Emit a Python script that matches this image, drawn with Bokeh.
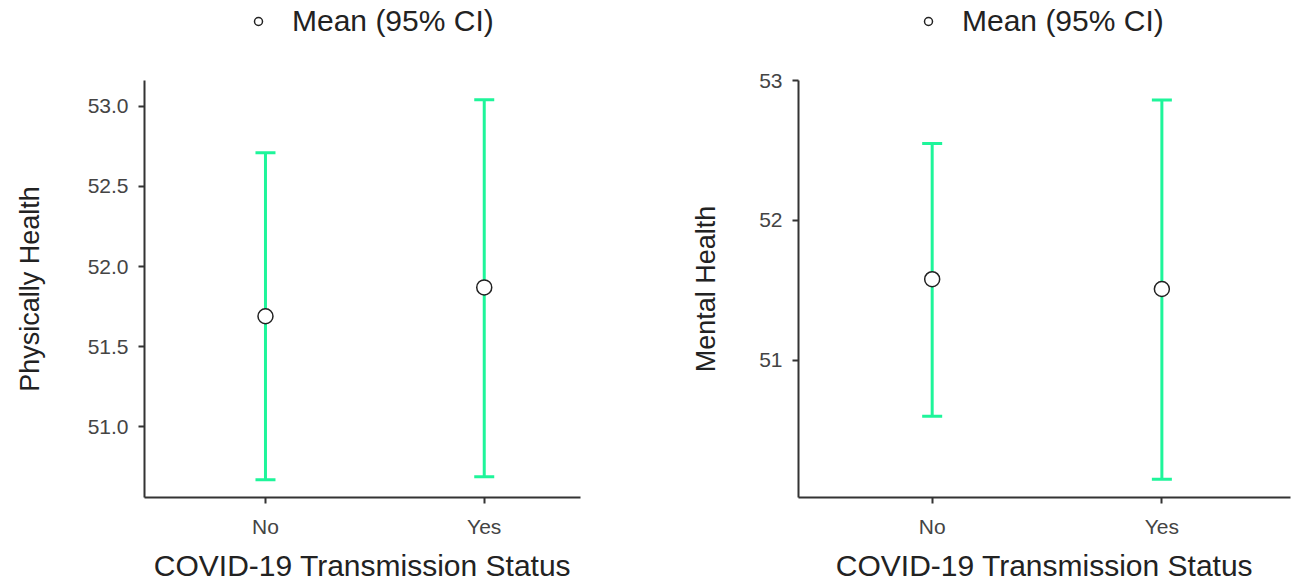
from bokeh.plotting import figure
from bokeh.layouts import row, column
from bokeh.models import Whisker, TeeHead, ColumnDataSource, Legend, LegendItem, FixedTicker, Range1d
from bokeh.embed import file_html
from bokeh.resources import INLINE

categories = ["No", "Yes"]
x_pos = [1, 2]

phys_mean = [51.69, 51.87]
phys_lower = [50.67, 50.69]
phys_upper = [52.71, 53.04]

ment_mean = [51.58, 51.51]
ment_lower = [50.60, 50.15]
ment_upper = [52.55, 52.86]

BAR = "#1EF59A"
FONT = "Liberation Sans"


def make_legend_fig(width, src, legend_x):
    # legend-only strip; its ranges exclude the data so only the legend shows
    lf = figure(width=width, height=60, output_backend="svg", toolbar_location=None,
                x_range=Range1d(0, 1), y_range=Range1d(0, 1),
                min_border=0, min_border_left=0, min_border_right=0,
                min_border_top=0, min_border_bottom=0)
    lf.axis.visible = False
    lf.grid.visible = False
    lf.outline_line_color = None
    r = lf.scatter("x", "mean", source=src, size=11, fill_color="white",
                   line_color="#222222", line_width=1.5)
    legend = Legend(items=[LegendItem(label="Mean (95% CI)", renderers=[r])],
                    location=(legend_x, 22), orientation="horizontal",
                    label_text_font=FONT, label_text_font_size="30px",
                    label_text_color="#222222",
                    background_fill_alpha=0, border_line_color=None,
                    glyph_width=20, glyph_height=20, label_standoff=24,
                    margin=0, padding=0)
    lf.add_layout(legend, "center")
    return lf


def make_panel(src, ylabel, yrange, xrange, yticks, fmt, borders, width, ylab_standoff):
    bl, br = borders
    p = figure(width=width, height=524, output_backend="svg", toolbar_location=None,
               x_range=xrange, y_range=yrange,
               min_border_left=bl, min_border_right=br, min_border_top=20, min_border_bottom=85)
    p.outline_line_color = None
    p.grid.grid_line_color = None
    p.background_fill_color = "white"
    p.border_fill_color = "white"

    w = Whisker(base="x", lower="lower", upper="upper", source=src, dimension="height",
                line_color=BAR, line_width=3,
                upper_head=TeeHead(size=20, line_color=BAR, line_width=3),
                lower_head=TeeHead(size=20, line_color=BAR, line_width=3))
    p.add_layout(w)
    p.scatter("x", "mean", source=src, size=15, fill_color="white",
              line_color="#222222", line_width=1.5)

    p.xaxis.ticker = FixedTicker(ticks=x_pos)
    p.xaxis.major_label_overrides = {x: c for x, c in zip(x_pos, categories)}
    p.yaxis.ticker = FixedTicker(ticks=yticks)
    p.yaxis.major_label_overrides = {t: fmt.format(t) for t in yticks}
    for ax in (p.xaxis, p.yaxis):
        ax.axis_line_color = "#333333"
        ax.axis_line_width = 2
        ax.major_tick_line_color = "#333333"
        ax.major_tick_line_width = 2
        ax.major_tick_out = 6
        ax.major_tick_in = 0
        ax.minor_tick_line_color = None
        ax.major_label_text_font = FONT
        ax.major_label_text_font_size = "21px"
        ax.major_label_text_color = "#444444"
        ax.axis_label_text_font = FONT
        ax.axis_label_text_font_style = "normal"
        ax.axis_label_text_color = "#222222"
    p.xaxis.axis_label = "COVID-19 Transmission Status"
    p.xaxis.axis_label_text_font_size = "30px"
    p.xaxis.major_label_standoff = 11
    p.xaxis.axis_label_standoff = 8
    p.yaxis.axis_label = ylabel
    p.yaxis.axis_label_text_font_size = "27px"
    p.yaxis.major_label_standoff = 10
    p.yaxis.axis_label_standoff = ylab_standoff
    return p


src1 = ColumnDataSource(dict(x=x_pos, mean=phys_mean, lower=phys_lower, upper=phys_upper))
src2 = ColumnDataSource(dict(x=x_pos, mean=ment_mean, lower=ment_lower, upper=ment_upper))

p1 = make_panel(src1, "Physically Health",
                (50.56, 53.16), (0.447, 2.44), [51.0, 51.5, 52.0, 52.5, 53.0], "{:.1f}",
                (144, 76), 656, 40)
p2 = make_panel(src2, "Mental Health",
                (50.02, 53.0), (0.418, 2.56), [51, 52, 53], "{:.0f}",
                (142, 16), 650, 35)

l1 = make_legend_fig(656, src1, 104)
l2 = make_legend_fig(650, src2, 120)

layout = row(column(l1, p1, spacing=0), column(l2, p2, spacing=0), spacing=0)
open("out.html", "w").write(file_html(layout, INLINE))
